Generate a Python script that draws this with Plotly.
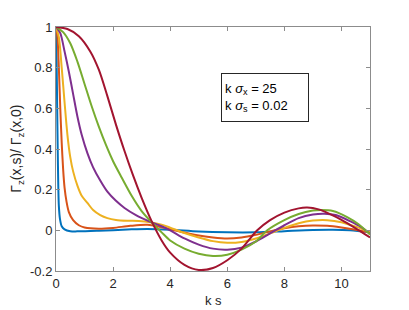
import plotly.graph_objects as go

# ---- data ----
blue_ks = [0, 0.02, 0.04, 0.06, 0.08, 0.10, 0.14, 0.2, 0.3, 0.5, 0.8, 1.5, 2.5, 3.2, 4.0, 5.0, 6.0, 7.0, 8.0, 9.0, 9.7, 10.3, 11]
blue_v = [1.0, 0.85, 0.62, 0.40, 0.22, 0.12, 0.055, 0.02, 0.005, -0.004, -0.005, -0.002, 0.004, 0.007, 0.003, -0.006, -0.01, -0.01, -0.004, 0.002, 0.003, 0.0, -0.01]

orange_ks = [0, 0.05, 0.1, 0.15, 0.2, 0.25, 0.3, 0.37, 0.45, 0.6, 0.8, 1.0, 1.5, 2.0, 2.6, 3.2, 3.8, 4.4, 4.95, 5.5, 6.0, 6.5, 7.0, 7.5, 8.0, 8.5, 9.0, 9.5, 10.0, 10.5, 11]
orange_v = [1.0, 0.95, 0.8, 0.6, 0.43, 0.3, 0.21, 0.14, 0.09, 0.05, 0.025, 0.014, 0.008, 0.012, 0.022, 0.027, 0.012, -0.008, -0.024, -0.035, -0.04, -0.035, -0.022, -0.005, 0.01, 0.02, 0.024, 0.022, 0.014, 0.003, -0.01]

yellow_ks = [0, 0.1, 0.2, 0.3, 0.4, 0.5, 0.6, 0.75, 0.9, 1.1, 1.3, 1.55, 1.8, 2.1, 2.5, 2.9, 3.3, 3.7, 4.0, 4.5, 5.0, 5.5, 6.0, 6.5, 7.0, 7.5, 8.0, 8.5, 9.0, 9.5, 10.0, 10.5, 11]
yellow_v = [1.0, 0.95, 0.8, 0.63, 0.47, 0.36, 0.29, 0.22, 0.17, 0.135, 0.1, 0.075, 0.06, 0.051, 0.047, 0.046, 0.04, 0.028, 0.013, -0.013, -0.035, -0.053, -0.061, -0.057, -0.04, -0.015, 0.012, 0.035, 0.048, 0.05, 0.04, 0.018, -0.01]

purple_ks = [0, 0.15, 0.3, 0.45, 0.6, 0.75, 0.9, 1.1, 1.3, 1.55, 1.8, 2.1, 2.4, 2.8, 3.3, 3.7, 4.0, 4.5, 5.0, 5.5, 6.0, 6.5, 7.0, 7.5, 8.0, 8.5, 9.0, 9.4, 9.8, 10.3, 10.7, 11]
purple_v = [1.0, 0.97, 0.88, 0.78, 0.67, 0.56, 0.47, 0.38, 0.31, 0.245, 0.19, 0.145, 0.11, 0.075, 0.042, 0.02, 0.0, -0.04, -0.07, -0.09, -0.095, -0.085, -0.055, -0.015, 0.025, 0.06, 0.078, 0.082, 0.075, 0.045, 0.015, -0.018]

green_ks = [0, 0.25, 0.5, 0.75, 1.0, 1.25, 1.5, 1.75, 2.0, 2.3, 2.65, 3.0, 3.35, 3.7, 4.0, 4.5, 5.0, 5.5, 6.0, 6.5, 7.0, 7.4, 8.0, 8.5, 9.0, 9.3, 9.7, 10.2, 10.6, 11]
green_v = [1.0, 0.975, 0.92, 0.83, 0.72, 0.61, 0.51, 0.42, 0.34, 0.26, 0.17, 0.095, 0.04, -0.01, -0.05, -0.09, -0.115, -0.126, -0.12, -0.095, -0.055, 0.0, 0.05, 0.08, 0.097, 0.1, 0.095, 0.065, 0.03, -0.02]

red_ks = [0, 0.4, 0.8, 1.2, 1.5, 1.8, 2.1, 2.4, 2.7, 3.0, 3.35, 3.7, 4.0, 4.5, 5.0, 5.5, 6.0, 6.5, 7.05, 7.5, 8.0, 8.5, 8.8, 9.2, 9.6, 10.0, 10.5, 11]
red_v = [1.0, 0.99, 0.955, 0.88, 0.79, 0.66, 0.52, 0.39, 0.27, 0.16, 0.045, -0.05, -0.11, -0.17, -0.195, -0.185, -0.147, -0.09, 0.0, 0.05, 0.087, 0.108, 0.112, 0.103, 0.08, 0.052, 0.01, -0.035]

x_ticks = [0, 2, 4, 6, 8, 10]
y_ticks = [-0.2, 0, 0.2, 0.4, 0.6, 0.8, 1]
y_tick_text = ["-0.2", "0", "0.2", "0.4", "0.6", "0.8", "1"]

series = [
    (blue_ks, blue_v, "#0072BD"),
    (orange_ks, orange_v, "#D95319"),
    (yellow_ks, yellow_v, "#EDB120"),
    (purple_ks, purple_v, "#7E2F8E"),
    (green_ks, green_v, "#77AC30"),
    (red_ks, red_v, "#A2142F"),
]

fig = go.Figure()
for xs, ys, c in series:
    fig.add_trace(go.Scatter(x=xs, y=ys, mode="lines",
                             line=dict(color=c, width=2, shape="spline", smoothing=0.8),
                             showlegend=False, hoverinfo="skip"))

font_family = "Liberation Sans, Arial, sans-serif"
axis_common = dict(showgrid=False, zeroline=False, showline=True, linecolor="#8c8c8c",
                   linewidth=1, mirror="ticks", ticks="inside", ticklen=4,
                   tickcolor="#8c8c8c", tickfont=dict(family=font_family, size=13, color="#262626"))

# page body has an 8px margin, so the figure is 8px smaller and margins shifted
fig.update_layout(
    width=401, height=302,
    margin=dict(l=48, r=39, t=15, b=39),
    paper_bgcolor="white", plot_bgcolor="white",
    xaxis=dict(range=[0, 11], tickvals=x_ticks, **axis_common),
    yaxis=dict(range=[-0.2, 1], tickvals=y_ticks, ticktext=y_tick_text, **axis_common),
    annotations=[
        dict(text="k s", xref="paper", yref="paper", x=0.5, y=-0.12, showarrow=False,
             xanchor="center", yanchor="middle",
             font=dict(family=font_family, size=13, color="#262626")),
        dict(text="Γ<sub>z</sub>(x,s)/ Γ<sub>z</sub>(x,0)", xref="paper", yref="paper",
             x=-0.125, y=0.5, showarrow=False, textangle=-90, xanchor="center", yanchor="middle",
             font=dict(family=font_family, size=14, color="#262626")),
        dict(text="k <i>σ</i><sub>x</sub> = 25<br>k <i>σ</i><sub>s</sub> = 0.02",
             xref="paper", yref="paper", x=0.5245, y=0.813, xanchor="left", yanchor="top",
             showarrow=False, align="left", valign="middle", width=80, height=41,
             bordercolor="#262626", borderwidth=1, borderpad=3,
             bgcolor="white", font=dict(family=font_family, size=13, color="#000000")),
    ],
)

fig.write_html("out.html")
